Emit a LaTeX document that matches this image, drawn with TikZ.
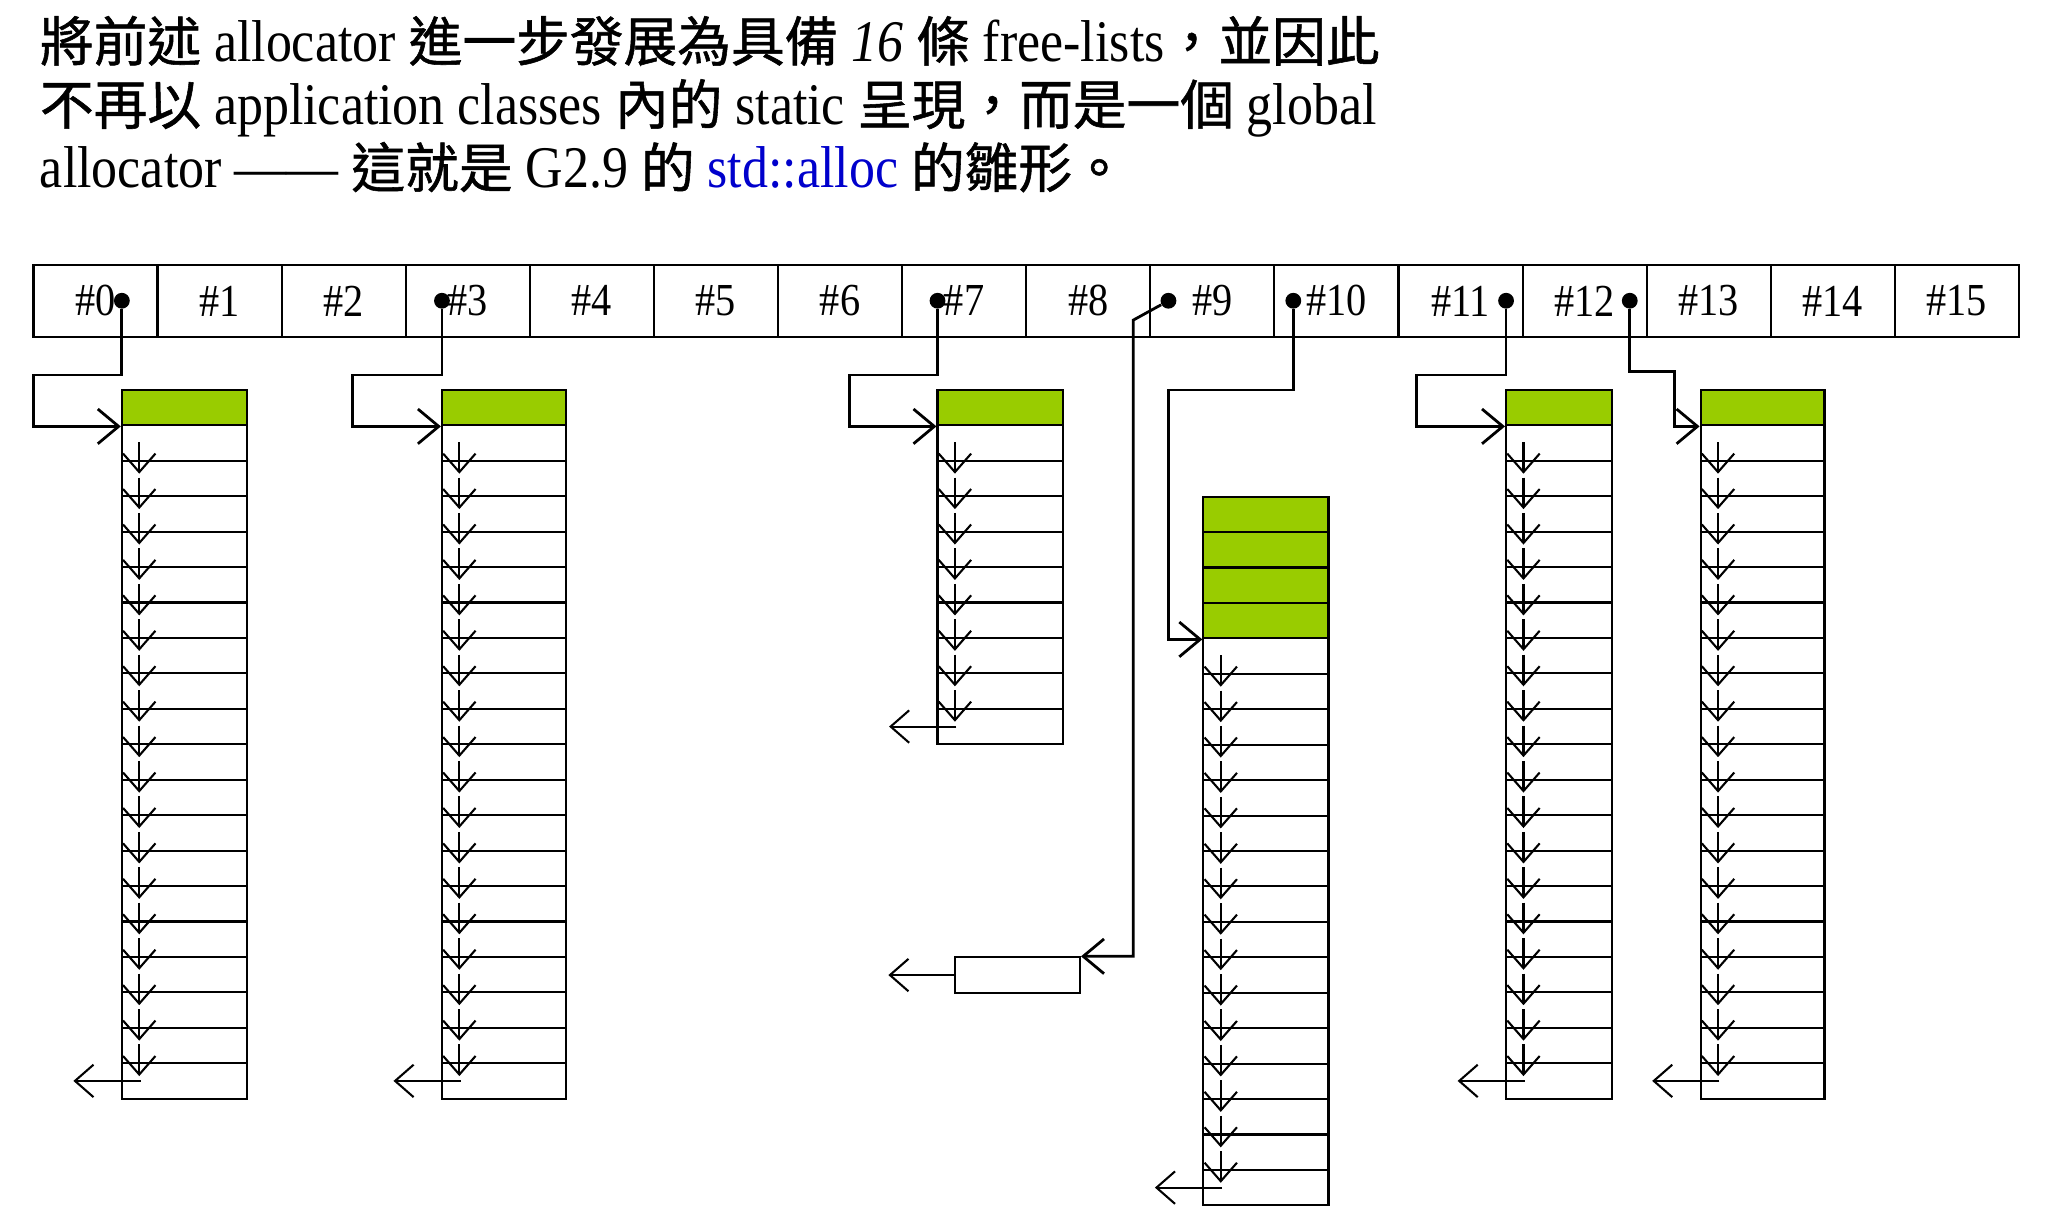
\documentclass[tikz,border=0pt]{standalone}
\usepackage{fontspec}
\setmainfont[FakeStretch=0.88]{Liberation Serif}
\newfontfamily\cjk[Scale=0.91, FakeBold=1]{Noto Sans CJK TC}
\usetikzlibrary{arrows.meta}
\definecolor{slotgreen}{RGB}{153,204,0}
\definecolor{allocblue}{RGB}{0,0,204}
\tikzset{
  slot/.style = {draw, line width=0.9pt, inner sep=0pt, minimum width=1.884cm, minimum height=1.088cm, font=\fontsize{19.8}{22}\selectfont},
  chunk/.style = {draw, line width=0.9pt, inner sep=0pt, minimum height=0.538cm},
  head/.style = {anchor=base west, inner sep=0pt, font=\fontsize{25.5}{30}\selectfont},
  dot/.style = {circle, fill, inner sep=0pt, minimum size=0.24cm},
  link/.style = {line width=1.2pt, -{Straight Barb[length=9pt, width=15pt]}},
  next/.style = {line width=0.9pt, -{Straight Barb[length=8pt, width=14pt]}},
}

\begin{document}
\begin{tikzpicture}[x=0.02cm, y=-0.02cm]
  \useasboundingbox (0,0) rectangle (1560,934.5);

  \node[head] (t1) at (30,46.5) {{\cjk 將前述} allocator {\cjk 進一步發展為具備} \textit{16} {\cjk 條} free-lists{\cjk ，並因此}};
  \node[head] (t2) at (30,94.5) {{\cjk 不再以} application classes {\cjk 內的} static {\cjk 呈現，而是一個} global};
  \node[head] (t3) at (30,142.5) {allocator ——{} {\cjk 這就是} G2.9 {\cjk 的} \textcolor{allocblue}{std::alloc} {\cjk 的雛形。}};

  \foreach \i in {0,...,15}
    \node[slot] (c\i) at ({72.5+94.2*\i},228.4) {\#\i};

  \foreach \n/\bx/\bw/\by/\ng/\nk in {0/92.5/94.8/296/1/19, 3/335.5/94/296/1/19, 7/711.7/94.9/296/1/9, 10/913.5/95/377/4/16, 11/1143.3/80.2/296/1/19, 12/1291/94/296/1/19} {
    \foreach \i in {1,...,\ng}
      \node[chunk, fill=slotgreen, minimum width={\bw*0.02cm}] (b\n-g\i) at ({\bx+\bw/2},{\by+26.9*(\i-0.5)}) {};
    \foreach \j in {1,...,\nk}
      \node[chunk, minimum width={\bw*0.02cm}] (b\n-\j) at ({\bx+\bw/2},{\by+26.9*(\ng+\j-0.5)}) {};
    \pgfmathtruncatemacro\kk{\nk-1}
    \foreach \j in {1,...,\kk}
      \draw[next] ([shift={(14,-15)}]b\n-\j.south west) -- ++(0,24);
    \draw[next] ([shift={(15,0)}]b\n-\nk.west) -- ++(-51,0);
  }

  \node[chunk, minimum width=1.894cm] (r9) at (772.5,740.2) {};

  \node[dot] (d0) at (92.5,228.3) {};
  \node[dot] (d3) at (335.5,228.3) {};
  \node[dot] (d7) at (711.7,228.3) {};
  \node[dot] (d9) at (887,228.3) {};
  \node[dot] (d10) at (981.8,228.3) {};
  \node[dot] (d11) at (1143.3,228.3) {};
  \node[dot] (d12) at (1237.2,228.3) {};

  \draw[link] (d0) |- (25.4,284.7) |- (b0-g1.south west);
  \draw[link] (d3) |- (267.8,284.7) |- (b3-g1.south west);
  \draw[link] (d7) |- (645,284.7) |- (b7-g1.south west);
  \draw[link] (d9) -- (860.3,243) |- (r9.north east);
  \draw[next] (r9.west) -- ++(-50,0);
  \draw[link] (d10) |- (887,296) |- (b10-g4.south west);
  \draw[link] (d11) |- (1075.3,284.7) |- (b11-g1.south west);
  \draw[link] (d12) |- (1271.3,282.2) |- (b12-g1.south west);
\end{tikzpicture}
\end{document}
